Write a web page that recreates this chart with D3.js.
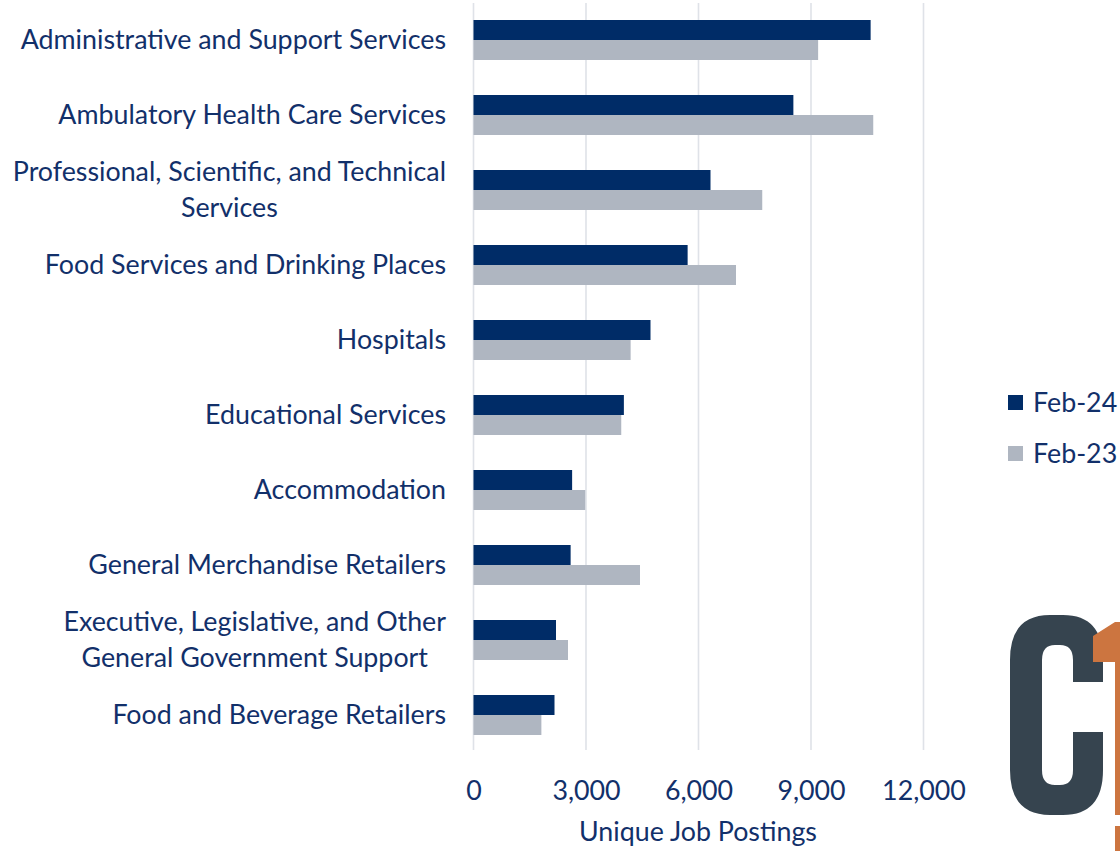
<!DOCTYPE html>
<html>
<head>
<meta charset="utf-8">
<script src="https://cdn.jsdelivr.net/npm/d3@7"></script>
<style>
  html, body { margin: 0; padding: 0; background: #fff; }
  svg { display: block; }
  text { font-family: Lato, "Open Sans", sans-serif; fill: #12306a; }
</style>
</head>
<body>
<svg id="chart" width="1120" height="851"></svg>
<script>
// ---- data ----
const categories = [
  "Administrative and Support Services",
  "Ambulatory Health Care Services",
  "Professional, Scientific, and Technical\nServices",
  "Food Services and Drinking Places",
  "Hospitals",
  "Educational Services",
  "Accommodation",
  "General Merchandise Retailers",
  "Executive, Legislative, and Other\nGeneral Government Support",
  "Food and Beverage Retailers"
];
const seriesNames = ["Feb-24", "Feb-23"];
const feb24 = [10590, 8530, 6320, 5710, 4720, 4010, 2630, 2590, 2200, 2160];
const feb23 = [9190, 10660, 7700, 7000, 4190, 3940, 2980, 4440, 2520, 1810];
const xTicks = [0, 3000, 6000, 9000, 12000];
const xTitle = "Unique Job Postings";

// ---- style ----
const colors = { "Feb-24": "#002c67", "Feb-23": "#afb6c1" };
const textColor = "#12306a";
const gridColor = "#dfe2e8";
const fontSize = 26.8;

const svg = d3.select("#chart");

const x = d3.scaleLinear().domain([0, 12000]).range([473.5, 923.5]);
const y = d3.scaleBand().domain(categories).range([2.5, 752.5])
  .paddingInner(35 / 75).paddingOuter(35 / 150);
const ySub = d3.scaleBand().domain(seriesNames).range([0, y.bandwidth()]);

// gridlines
svg.append("g").selectAll("line").data(xTicks).join("line")
  .attr("x1", d => x(d)).attr("x2", d => x(d))
  .attr("y1", 3).attr("y2", 750)
  .attr("stroke", gridColor).attr("stroke-width", 1.6);

// bars
const rows = categories.map((c, i) => ({ cat: c, vals: [
  { s: "Feb-24", v: feb24[i] }, { s: "Feb-23", v: feb23[i] }
]}));
const g = svg.append("g").selectAll("g").data(rows).join("g")
  .attr("transform", d => `translate(0,${y(d.cat)})`);
g.selectAll("rect").data(d => d.vals).join("rect")
  .attr("x", x(0))
  .attr("y", d => ySub(d.s))
  .attr("width", d => x(d.v) - x(0))
  .attr("height", ySub.bandwidth())
  .attr("fill", d => colors[d.s]);

// category labels
const labelRight = 446;
const lg = svg.append("g");
categories.forEach(c => {
  const lines = c.split("\n");
  const cy = y(c) + y.bandwidth() / 2;
  const grp = lg.append("g");
  const texts = lines.map((ln, j) => grp.append("text")
    .attr("font-size", fontSize)
    .attr("y", cy + (j - (lines.length - 1) / 2) * 36)
    .attr("dy", "0.35em")
    .text(ln));
  if (lines.length === 1) {
    texts[0].attr("x", labelRight).attr("text-anchor", "end");
  } else {
    const w = Math.max(...texts.map(t => t.node().getComputedTextLength()));
    texts.forEach(t => t.attr("x", labelRight - w / 2).attr("text-anchor", "middle"));
  }
});

// x axis
const axis = d3.axisBottom(x).tickValues(xTicks).tickFormat(d3.format(",")).tickSize(0);
const ax = svg.append("g").attr("transform", "translate(0,752)").call(axis);
ax.select(".domain").remove();
ax.selectAll("text").attr("font-size", fontSize).attr("fill", textColor)
  .attr("font-family", "Lato, 'Open Sans', sans-serif")
  .attr("y", 48).attr("dy", 0);

svg.append("text").attr("x", 698).attr("y", 841)
  .attr("text-anchor", "middle").attr("font-size", fontSize).text(xTitle);

// legend
const leg = svg.append("g").selectAll("g").data(seriesNames).join("g")
  .attr("transform", (d, i) => `translate(1008,${395 + i * 51})`);
leg.append("rect").attr("width", 15).attr("height", 15).attr("fill", d => colors[d]);
leg.append("text").attr("x", 25).attr("y", 17).attr("font-size", fontSize).text(d => d);

// logo (decorative)
const logo = svg.append("g");
logo.append("path")
  .attr("fill", "#36444f")
  .attr("fill-rule", "evenodd")
  .attr("d", "M1050,615 H1063 Q1103,615 1103,660 V682 H1073 V660 Q1073,645 1060,645 H1055 Q1042,645 1042,660 V770 Q1042,785 1055,785 H1060 Q1073,785 1073,770 V732 H1103 V770 Q1103,815 1063,815 H1050 Q1010,815 1010,770 V660 Q1010,615 1050,615 Z");
logo.append("path")
  .attr("fill", "#cc7540")
  .attr("d", "M1093,636 L1115,622 H1120 V815 H1115 V662 H1093 Z");
logo.append("rect").attr("x", 1115).attr("y", 826).attr("width", 5).attr("height", 25).attr("fill", "#cc7540");
</script>
</body>
</html>
